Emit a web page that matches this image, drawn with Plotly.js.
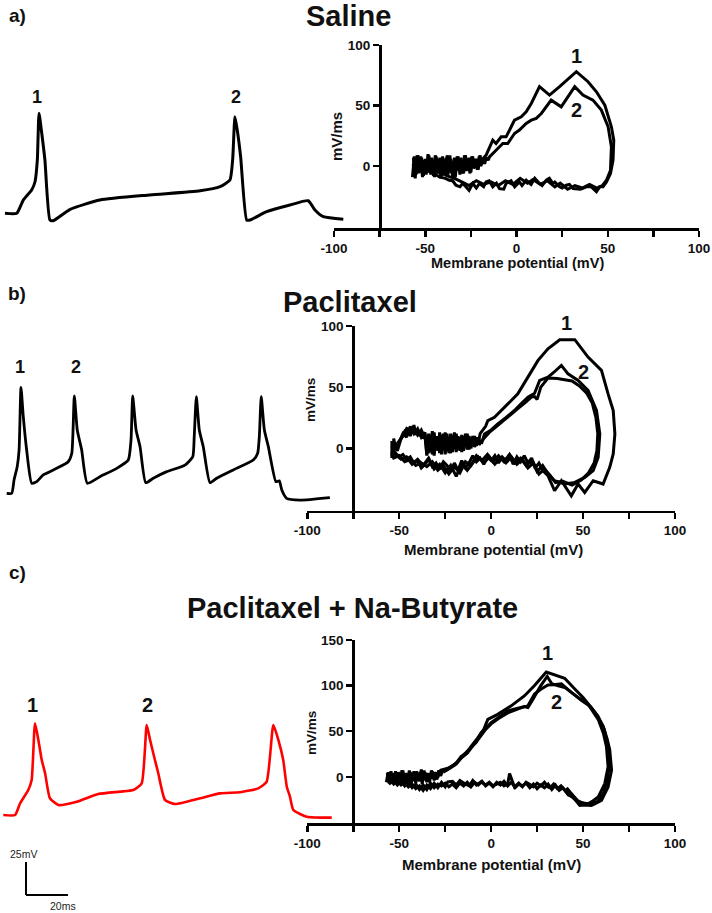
<!DOCTYPE html>
<html><head><meta charset="utf-8">
<script src="https://cdn.plot.ly/plotly-3.0.1.min.js"></script>
<style>html,body{margin:0;padding:0;background:#fff}#chart{width:712px;height:913px}</style>
</head><body><div id="chart"></div>
<script>
// ---------- DATA ----------
// Voltage traces: [time (ms), membrane potential (mV)]
const salineTrace = [[0,-60],[5.6,-60],[8.7,-50],[12.7,-42.3],[14.3,-36.1],[15.4,-19.6],[16.2,15.8],[17.5,0.6],[19.0,-19.6],[21.4,-65.1],[23.0,-65.6],[31.0,-57],[45.2,-49.9],[69.0,-46.1],[92.9,-42.9],[102.4,-39.8],[107.1,-34.8],[108.4,-19.6],[109.5,13.2],[110.6,3.1],[112.2,-17.1],[115.1,-65.1],[116.7,-65.1],[124.6,-58.8],[135.7,-53.7],[144.4,-50.5],[147.6,-57.5],[151.6,-62.6],[161.1,-64.5]];
const paclitaxelTrace = [[0,-60],[2.4,-60],[3.5,-49.9],[5.0,-39.8],[5.9,-27.2],[6.8,20.3],[7.9,-2.0],[9.5,-27.2],[11.9,-52.4],[14.3,-51.2],[17.4,-46.1],[23.8,-41.1],[29.3,-36.1],[31.0,-29.7],[32.2,13.7],[33.6,-12.0],[35.7,-27.2],[38.4,-52.4],[44.4,-47.4],[52.4,-41.1],[57.9,-34.8],[59.2,-19.6],[60.0,13.7],[61.6,-12.0],[63.5,-24.7],[66.2,-52.0],[69.8,-48.6],[76.2,-43.6],[84.9,-38.6],[88.6,-32.3],[89.3,-17.1],[90.3,13.2],[91.7,-12.0],[93.6,-24.7],[96.8,-52.0],[100.0,-48.6],[107.9,-42.3],[117.4,-34.8],[119.5,-29.7],[120.3,-17.1],[121.2,13.2],[122.7,-12.0],[124.6,-24.7],[128.2,-51.2],[129.8,-50.5],[131.0,-57.5],[133.3,-63.8],[139.7,-65.1],[153.9,-63.2]];
const butyrateTrace = [[0,-60],[5.6,-60],[8.0,-51.1],[11.9,-41.1],[13.5,-33.5],[15.1,9.5],[16.7,-3.2],[18.3,-18.3],[19.9,-28.4],[22.2,-47.3],[26.2,-52.4],[35.0,-49.9],[45.2,-44.1],[55.6,-42.3],[61.9,-41.1],[65.9,-36.0],[68.3,8.2],[69.9,-3.2],[72.2,-18.3],[73.8,-28.4],[77.0,-48.6],[81.8,-51.7],[93.7,-47.3],[103.2,-43.6],[112.7,-42.8],[121.4,-39.8],[125.4,-34.8],[128.6,8.2],[131.0,-3.2],[133.3,-18.3],[135.0,-38.6],[136.5,-46.1],[138.1,-56.2],[144.5,-61.3],[156.4,-62.0]];

// Phase plots: [membrane potential (mV), dV/dt (mV/ms)]
const salineLoop1 = [[-57,-9],[-56,8],[-55,-7],[-54,9],[-53,-4],[-52,7],[-51,-8],[-50,6],[-49,-5],[-48,9],[-47,-7],[-46,5],[-45,-9],[-44,8],[-43,-6],[-42,7],[-41,-8],[-40,4],[-39,-7],[-38,9],[-37,-5],[-36,6],[-35,-9],[-34,7],[-33,-4],[-32,8],[-31,-7],[-30,5],[-29,-6],[-28,9],[-27,-3],[-26,7],[-25,-5],[-24,8],[-23,-1],[-22,6],[-21,-3],[-20,9],[-19,2],[-18,7],
[-16.7,9],[-13,21.5],[-11.2,18.7],[-8.4,24.2],[-5.7,24.2],[-2.9,32.5],[-1.1,38],[2.6,40.8],[5.3,44.9],[8.1,51.8],[12.6,65.6],[18.1,58.7],[23.6,65.6],[32.8,78],[39.2,69.7],[43.8,61.4],[48.4,50.4],[52,32.5],[53.3,21.5],[52.9,5],[51.5,-6],[49.3,-13],[47.4,-17],
[45.6,-17],[43.8,-21],[41,-17],[38.3,-17],[35,-19],[31,-18.5],[29,-15],[27.3,-15.7],[25,-18],[23.6,-17],[21,-13],[20,-14.3],[18,-10],[16.3,-11.6],[14,-16],[12.6,-14.3],[10,-10],[8,-15],[5.3,-11.6],[3,-16],[1.6,-13],[-1,-17],[-3,-12],[-5.7,-14.3],[-7,-19],[-9.3,-18.5],[-11,-14],[-13,-17],[-15,-12],[-16.7,-13],[-18,-17],[-20.3,-14.3],[-22,-18],[-24,-14.3],[-26,-20],[-27.7,-17],[-29.5,-14.3],[-31,-17],[-33.2,-15.7],[-35,-12],[-36.8,-11.6],[-39,-10],[-42.3,-8.8],[-45,-6],[-49.6,-3.3],[-53,-1],[-55,-0.5],[-57,2]];
const salineLoop2 = [[-56.5,7],[-55.5,-10],[-54.5,9],[-53.5,-6],[-52.5,8],[-51.5,-9],[-50.5,5],[-49.5,-7],[-48.5,10],[-47.5,-5],[-46.5,7],[-45.5,-8],[-44.5,9],[-43.5,-4],[-42.5,6],[-41.5,-10],[-40.5,8],[-39.5,-5],[-38.5,7],[-37.5,-7],[-36.5,9],[-35.5,-6],[-34.5,4],[-33.5,-9],[-32.5,8],[-31.5,-3],[-30.5,7],[-29.5,-6],[-28.5,9],[-27.5,-4],[-26.5,5],[-25.5,-6],[-24.5,8],[-23.5,-2],[-22.5,6],[-21.5,-3],[-20.5,8],[-19.5,0],[-18.5,6],[-17.5,2],[-16.5,7],[-15.5,5],
[-14.8,7.7],[-11.2,13.2],[-7.5,18.7],[-4.8,18.7],[-1.1,27],[1.6,29.8],[5.3,35.3],[8.1,38],[10.8,39.4],[13.6,43.5],[19,54.5],[24.5,49],[31.9,65.6],[36.4,58.7],[41.9,54.5],[46.5,46.3],[50.2,32.5],[52,16],[51.5,-3.3],[49.3,-11.6],[47,-16],
[44,-18],[40,-15],[36,-18],[32,-16],[28,-19],[24,-14],[21,-17],[17,-12],[13,-15],[9,-11],[6,-14],[2,-10],[-2,-15],[-6,-12],[-10,-16],[-14,-13],[-18,-15],[-22,-12],[-26,-16],[-30,-13],[-34,-10],[-38,-8],[-42,-5],[-46,-3],[-50,-5],[-54,-2],[-57,0]];

const paclitaxelLoop1 = [[-54,-8],[-54,6],[-53,-4],[-53,8],[-52,0],[-50,5],[-48,12],[-46,9],[-45,17],[-44,10],[-43,14],[-42,19],[-41,11],[-40,15],[-39,10],[-38,14],[-37,8],[-36,12],[-35,-5],[-34,12],[-33,-3],[-32,14],[-31,-4],[-30,10],[-29,-2],[-28,13],[-27,-5],[-26,9],[-25,-1],[-24,12],[-23,-4],[-22,10],[-21,0],[-20,13],[-19,-3],[-18,9],[-17,1],[-16,11],[-15,-2],[-14,8],[-13,2],[-12,10],[-11,0],[-10,7],[-9,3],[-8,9],[-7,4],[-6,12],
[-3,18],[-1.8,22.7],[1.8,25.4],[9.1,36.3],[14.5,44.5],[20,58.2],[25.5,71.9],[30.9,81.4],[37.3,88.8],[45.5,88.8],[52.7,74.6],[60,63.7],[63.6,44.5],[66.4,30.9],[67.3,11.7],[66.4,-4.6],[64.5,-15.6],[60.9,-29.2],[55.5,-26.5],[50.9,-36.1],[47.3,-29.2],[43.6,-38.8],[38.2,-26.5],[34.5,-34.7],[30.9,-22.4],
[28,-18],[26,-12],[24,-16],[22,-8],[20,-12],[18,-6],[16,-11],[14,-7],[12,-13],[10,-6],[8,-10],[6,-7],[4,-12],[2,-6],[0,-10],[-2,-7],[-4,-13],[-6,-8],[-8,-11],[-10,-6],[-12,-12],[-14,-16],[-16,-10],[-18,-18],[-20,-12],[-22,-19],[-24,-14],[-26,-11],[-28,-17],[-30,-12],[-32,-15],[-34,-9],[-36,-13],[-38,-16],[-40,-10],[-42,-12],[-44,-7],[-46,-9],[-48,-5],[-50,-7],[-52,-4],[-54,-6]];
const paclitaxelLoop2 = [[-54,-6],[-53,3],[-51,-2],[-49,8],[-47,14],[-45,11],[-44,18],[-42,12],[-40,16],[-38,9],[-36,13],[-35,-6],[-34,10],[-33,-2],[-32,12],[-31,-6],[-30,9],[-29,0],[-28,11],[-27,-3],[-26,12],[-25,-5],[-24,8],[-23,1],[-22,12],[-21,-3],[-20,9],[-19,-1],[-18,10],[-17,-2],[-16,8],[-15,0],[-14,12],[-13,-1],[-12,9],[-11,2],[-10,10],[-9,1],[-8,8],[-7,3],[-6,6],[-5,5],
[-3.6,11.7],[0,15],[3.6,19.9],[8,25],[12.7,30.9],[16,36],[20,41.8],[23.6,45],[26.4,55.5],[30.9,58.2],[34,62],[38.2,67.8],[41.8,60.9],[47.3,55.5],[52.7,47.3],[57.3,30.9],[59.1,11.7],[58.2,-7.4],[55.5,-18.3],[50.9,-23.8],[45.5,-27.9],[40,-29.2],[34.5,-26.5],
[31,-21],[28,-14],[25,-19],[22,-10],[19,-14],[16,-8],[13,-12],[10,-5],[7,-11],[4,-6],[1,-11],[-2,-5],[-5,-10],[-8,-6],[-11,-14],[-14,-11],[-17,-20],[-20,-15],[-23,-21],[-26,-14],[-29,-18],[-32,-11],[-35,-15],[-38,-12],[-41,-14],[-44,-9],[-47,-11],[-50,-6],[-53,-8],[-54,-4]];
const paclitaxelLoop3 = [[-54,-4],[-52,2],[-50,6],[-48,10],[-46,16],[-44,13],[-42,17],[-40,11],[-38,15],[-36,8],[-34,-4],[-33,11],[-32,-5],[-31,13],[-30,-1],[-29,10],[-28,-4],[-27,11],[-26,0],[-25,13],[-24,-2],[-23,9],[-22,-4],[-21,11],[-20,1],[-19,12],[-18,-1],[-17,8],[-16,-3],[-15,10],[-14,2],[-13,12],[-12,-1],[-11,8],[-10,3],[-9,10],[-8,2],[-7,7],[-6,4],
[-4,8],[-1,13],[3,18],[7,23],[11,28],[15,33],[19,38],[22,42],[23.6,42.3],[25,40],[27,50],[30.9,57.5],[36,57],[40,56],[44,55],[48,51],[52,45],[55,37],[57,25],[58,12],[57.5,-2],[56,-12],[53,-20],[49,-26],[44,-30],[39,-27],[35,-28],
[32,-22],[29,-17],[26,-21],[23,-12],[20,-16],[17,-9],[14,-13],[11,-7],[8,-12],[5,-8],[2,-13],[-1,-7],[-4,-12],[-7,-7],[-10,-12],[-13,-18],[-16,-12],[-19,-23],[-22,-14],[-25,-20],[-28,-13],[-31,-17],[-34,-8],[-37,-14],[-40,-9],[-43,-13],[-46,-7],[-49,-9],[-52,-5],[-54,2]];

const butyrateLoop1 = [[-57,-6],[-56,5],[-55,-8],[-54,4],[-53,-3],[-52,6],[-51,-7],[-50,3],[-49,-4],[-48,7],[-47,-6],[-46,2],[-45,-8],[-44,5],[-43,-2],[-42,6],[-41,-7],[-40,4],[-39,-5],[-38,8],[-37,-3],[-36,5],[-35,-6],[-34,3],[-33,-2],[-32,6],[-31,-4],[-30,4],[-29,-1],[-28,6],
[-27.3,7.4],[-24,9],[-21.8,11.1],[-19,15],[-16.4,22.2],[-13,27],[-10.9,33.3],[-7.3,42.6],[-4,52],[-1.8,63],[3.6,68.5],[10.9,77.8],[18.2,88.9],[23.6,100],[30,114.8],[40,108.1],[45.5,96.3],[50,87],[54.5,75.9],[58,66],[60.9,55.6],[63,42],[64.5,29.6],[65.5,7.4],[63.6,-11.1],[60,-25.9],[56,-30],[54.5,-31.5],[50,-31],[48.2,-31.5],[44.5,-22.2],[42,-20],[40,-14.8],
[38,-10],[36,-13],[34,-8],[32,-12],[30.9,-11.1],[29,-6],[27,-10],[25,-7],[23,-11],[21.8,-9.3],[19,-6],[17,-11],[15,-7],[12.7,-11.1],[10,3.7],[9,-8],[7,-10],[5,-6],[3.6,-7.4],[1,-10],[-1,-6],[-3,-9],[-5.5,-5.6],[-8,-9],[-10,-4],[-12,-10],[-14.5,-7.4],[-17,-4],[-19,-9],[-21,-5],[-23.6,-5.6],[-25,-11],[-27,-6],[-29,-12],[-31,-7],[-33,-13],[-35,-9],[-37,-15],[-39,-10],[-41,-13],[-43,-8],[-45,-11],[-47,-6],[-49,-9],[-51,-4],[-53,-8],[-55,-3],[-57,-5]];
const butyrateLoop2 = [[-56.5,4],[-55.5,-7],[-54.5,6],[-53.5,-5],[-52.5,3],[-51.5,-8],[-50.5,5],[-49.5,-3],[-48.5,7],[-47.5,-6],[-46.5,4],[-45.5,-4],[-44.5,7],[-43.5,-7],[-42.5,3],[-41.5,-5],[-40.5,6],[-39.5,-3],[-38.5,5],[-37.5,-8],[-36.5,7],[-35.5,-4],[-34.5,4],[-33.5,-6],[-32.5,7],[-31.5,-2],[-30.5,5],[-29.5,-3],[-28.5,7],[-27.5,1],[-26.5,6],
[-24,8],[-21,12],[-18,17],[-15,24],[-12,30],[-8,38],[-5.5,48.1],[-2,55],[0,59.3],[4,65],[9.1,72.2],[14,75],[20,77.8],[23.6,90.7],[27,96],[30.9,100.7],[34,101],[38.2,101.9],[43.6,92.6],[48,86],[52.7,79.6],[58.2,63],[61,48],[62.7,33.3],[63.6,11.1],[61.8,-7.4],[58.2,-22.2],[55,-27],[52.7,-29.6],[47.3,-27.8],[44,-22],[41.8,-18.5],
[39,-12],[37,-15],[35,-9],[33,-14],[31,-8],[29,-12],[27,-9],[25,-13],[23,-8],[21,-12],[19,-7],[17,-10],[15,-8],[13,-12],[11,-6],[9,-10],[7,-5],[5,-9],[3,-6],[1,-11],[-1,-7],[-3,-10],[-5,-5],[-7,-9],[-9,-6],[-11,-11],[-13,-6],[-15,-10],[-17,-7],[-19,-12],[-21,-8],[-23,-11],[-25,-7],[-27,-10],[-29,-8],[-31,-12],[-33,-7],[-35,-14],[-37,-9],[-39,-14],[-41,-8],[-43,-12],[-45,-6],[-47,-10],[-49,-5],[-51,-9],[-53,-4],[-55,-7],[-56.5,-2]];
const butyrateLoop3 = [[-26,5],[-22,10],[-19,14],[-16,21],[-13,26],[-10,34],[-7,41],[-3,52],[0,58],[4,64],[9,70],[14,74],[18,77],[20,76],[23,86],[27,100],[30.5,110],[33,102],[36,100],[40,98],[44,92],[49,84],[54,77],[58,67],[61.5,52],[63.5,35],[64.5,15],[63,-5],[61,-18],[58,-27],[55,-29],[51,-30],[47,-26],[43,-17],[41,-12]];

const xTickVals = [-100,-75,-50,-25,0,25,50,75,100];
const xTickText = ['-100','','-50','','0','','50','','100'];
const yTicksAB = [0,50,100];
const yTicksC = [0,50,100,150];
const panelTitles = ['Saline','Paclitaxel','Paclitaxel + Na-Butyrate'];
const panelLetters = ['a)','b)','c)'];
const xTitle = 'Membrane potential (mV)';
const yTitle = 'mV/ms';
const scaleBarMs = 20, scaleBarMv = 25;

// ---------- LAYOUT HELPERS ----------
const W = 712, H = 913;
const FONT = 'Arial, "Liberation Sans", sans-serif';
const PX_PER_MS = 2.1, PX_PER_MV = 1.32;

function leftAxes(xPx0, xPx1, yTop, yBot, ox, oy) {
  return [
    {domain:[xPx0/W, xPx1/W], range:[(xPx0-ox)/PX_PER_MS, (xPx1-ox)/PX_PER_MS], visible:false, fixedrange:true},
    {domain:[1-yBot/H, 1-yTop/H], range:[-60-(yBot-oy)/PX_PER_MV, -60+(oy-yTop)/PX_PER_MV], visible:false, fixedrange:true}
  ];
}
const axCommon = {showline:true, linecolor:'#000', linewidth:2.5, ticks:'outside', ticklen:6, tickwidth:2.5, tickcolor:'#000',
  showgrid:false, zeroline:false, fixedrange:true, tickmode:'array',
  tickfont:{family:FONT, size:13.5, color:'#111', weight:'bold'}};
function phaseAxes(xPx0, xPx1, yTop, yBot, yAxisPx, yRange, yTicks, yName) {
  return [
    Object.assign({}, axCommon, {domain:[xPx0/W, xPx1/W], range:[-100,100], anchor:yName, tickvals:xTickVals, ticktext:xTickText}),
    Object.assign({}, axCommon, {domain:[1-yBot/H, 1-yTop/H], range:yRange, anchor:'free', position:yAxisPx/W, tickvals:yTicks, ticktext:yTicks.map(String)})
  ];
}

const [xa1, ya1] = phaseAxes(334, 699, 45, 228, 380, [-51,100], yTicksAB, 'y');
const [xa2, ya2] = phaseAxes(307.3, 675, 326, 510.7, 353.3, [-51,100], yTicksAB, 'y2');
const [xa3, ya3] = phaseAxes(307.3, 675, 640, 823.3, 353.3, [-51,150], yTicksC, 'y3');
const [xa4, ya4] = leftAxes(0, 352, 90, 235, 5, 213.3);
const [xa5, ya5] = leftAxes(0, 340, 360, 515, 6.7, 493.3);
const [xa6, ya6] = leftAxes(0, 340, 690, 910, 3.3, 815);

const X = a => a.map(p => p[0]);
const Y = a => a.map(p => p[1]);
function line(arr, xa, ya, color, w, smooth) {
  const ln = {color:color, width:w, simplify:false};
  if (smooth) { ln.shape = 'spline'; ln.smoothing = smooth; }
  return {type:'scatter', mode:'lines', x:X(arr), y:Y(arr), xaxis:xa, yaxis:ya,
    line:ln, hoverinfo:'skip', showlegend:false};
}

const traces = [
  line(salineLoop1,'x','y','#000',3), line(salineLoop2,'x','y','#000',3),
  line(paclitaxelLoop1,'x2','y2','#000',3), line(paclitaxelLoop2,'x2','y2','#000',3), line(paclitaxelLoop3,'x2','y2','#000',3),
  line(butyrateLoop1,'x3','y3','#000',3), line(butyrateLoop2,'x3','y3','#000',3), line(butyrateLoop3,'x3','y3','#000',3),
  line(salineTrace,'x4','y4','#000',3, 0.5),
  line(paclitaxelTrace,'x5','y5','#000',2.8, 0.5),
  line(butyrateTrace,'x6','y6','#ff0000',2.6, 0.5)
];

function txt(text, x, y, xref, yref, size, opts) {
  return Object.assign({text:text, x:x, y:y, xref:xref, yref:yref, showarrow:false,
    xanchor:'center', yanchor:'middle', font:{family:FONT, size:size, color:'#111', weight:'bold'}}, opts||{});
}
const P = (px) => px/W, Q = (py) => 1 - py/H;

const annotations = [
  txt(panelTitles[0], P(348), Q(16), 'paper','paper', 29),
  txt(panelTitles[1], P(350), Q(302), 'paper','paper', 29),
  txt(panelTitles[2], P(352), Q(608), 'paper','paper', 29),
  txt(panelLetters[0], P(17), Q(16), 'paper','paper', 19),
  txt(panelLetters[1], P(17), Q(293), 'paper','paper', 19),
  txt(panelLetters[2], P(17), Q(572), 'paper','paper', 19),
  // axis titles
  txt(yTitle, P(337), Q(137), 'paper','paper', 15, {textangle:-90}),
  txt(yTitle, P(310), Q(400), 'paper','paper', 13.5, {textangle:-90}),
  txt(yTitle, P(311), Q(733), 'paper','paper', 13.5, {textangle:-90}),
  txt(xTitle, P(517), Q(263), 'paper','paper', 14.5),
  txt(xTitle, P(493), Q(549), 'paper','paper', 15),
  txt(xTitle, P(491), Q(864), 'paper','paper', 15),
  // spike numbers on traces
  txt('1', 15.2, 28.1, 'x4','y4', 18), txt('2', 110, 28.1, 'x4','y4', 18),
  txt('1', 6.4, 35.7, 'x5','y5', 18), txt('2', 33, 35.7, 'x5','y5', 18),
  txt('1', 13.9, 23.3, 'x6','y6', 20), txt('2', 68.8, 23.3, 'x6','y6', 20),
  // spike numbers in phase plots
  txt('1', 32.8, 91.1, 'x','y', 20), txt('2', 32.8, 46.3, 'x','y', 20),
  txt('1', P(566.7), Q(322.5), 'paper','paper', 20), txt('2', 50, 62, 'x2','y2', 20),
  txt('1', 30.9, 136.2, 'x3','y3', 20), txt('2', 35.4, 81.9, 'x3','y3', 20),
  // scale bar labels
  txt(scaleBarMv + 'mV', 9.4, -89.5, 'x6','y6', 10.5, {font:{family:FONT, size:10.5, color:'#222'}}),
  txt(scaleBarMs + 'ms', 28.2, -128.9, 'x6','y6', 10.5, {font:{family:FONT, size:10.5, color:'#222'}})
];

const sbT = 10.8, sbV = -120.6;
const shapes = [
  {type:'line', xref:'x6', yref:'y6', x0:sbT, y0:sbV, x1:sbT, y1:sbV+scaleBarMv, line:{color:'#000', width:2}},
  {type:'line', xref:'x6', yref:'y6', x0:sbT, y0:sbV, x1:sbT+scaleBarMs, y1:sbV, line:{color:'#000', width:2}}
];

const layout = {
  width:W, height:H, margin:{l:0,r:0,t:0,b:0}, paper_bgcolor:'#fff', plot_bgcolor:'rgba(0,0,0,0)',
  showlegend:false, font:{family:FONT, color:'#111'},
  xaxis:xa1, yaxis:ya1, xaxis2:xa2, yaxis2:ya2, xaxis3:xa3, yaxis3:ya3,
  xaxis4:xa4, yaxis4:ya4, xaxis5:xa5, yaxis5:ya5, xaxis6:xa6, yaxis6:ya6,
  annotations:annotations, shapes:shapes
};
Plotly.newPlot('chart', traces, layout, {staticPlot:true, displayModeBar:false});
</script>
</body></html>
